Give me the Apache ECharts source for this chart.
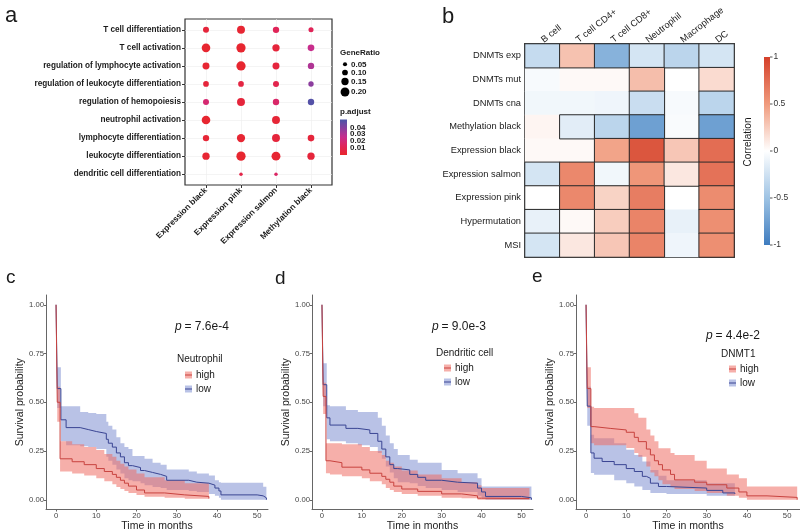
<!DOCTYPE html>
<html>
<head>
<meta charset="utf-8">
<script src="https://cdn.jsdelivr.net/npm/echarts@6/dist/echarts.min.js"></script>
<style>
  html, body { margin: 0; padding: 0; background: #fff; }
  #main { width: 800px; height: 529px; }
</style>
</head>
<body>
<div id="main"></div>
<script>
const FONT = 'Liberation Sans, Arial, Helvetica, sans-serif';

// ---- panel a: GO enrichment dot plot ----
const goTerms = ['T cell differentiation', 'T cell activation', 'regulation of lymphocyte activation',
  'regulation of leukocyte differentiation', 'regulation of hemopoiesis', 'neutrophil activation',
  'lymphocyte differentiation', 'leukocyte differentiation', 'dendritic cell differentiation'];
const modules = ['Expression black', 'Expression pink', 'Expression salmon', 'Methylation black'];
const ratioExpBlack  = [0.11, 0.19, 0.14, 0.10, 0.11, 0.19, 0.12, 0.15, null];
const ratioExpPink   = [0.17, 0.21, 0.21, 0.10, 0.17, null, 0.18, 0.21, 0.03];
const ratioExpSalmon = [0.12, 0.15, 0.14, 0.11, 0.12, 0.17, 0.17, 0.20, 0.03];
const ratioMethBlack = [0.08, 0.13, 0.12, 0.09, 0.12, null, 0.13, 0.15, null];
const padjExpBlack   = [0.004, 0.001, 0.002, 0.004, 0.018, 0.001, 0.003, 0.002, null];
const padjExpPink    = [0.002, 0.001, 0.001, 0.006, 0.004, null, 0.002, 0.001, 0.008];
const padjExpSalmon  = [0.012, 0.004, 0.005, 0.009, 0.016, 0.003, 0.004, 0.002, 0.015];
const padjMethBlack  = [0.012, 0.025, 0.030, 0.037, 0.048, null, 0.004, 0.004, null];
const ratioTicks = [0.05, 0.10, 0.15, 0.20];
const padjTicks = [0.04, 0.03, 0.02, 0.01];

// ---- panel b: correlation heatmap ----
const cellTypes = ['B cell', 'T cell CD4+', 'T cell CD8+', 'Neutrophil', 'Macrophage', 'DC'];
const features = ['DNMTs exp', 'DNMTs mut', 'DNMTs cna', 'Methylation black', 'Expression black',
  'Expression salmon', 'Expression pink', 'Hypermutation', 'MSI'];
const corr = [
  [-0.30, 0.30, -0.62, -0.22, -0.35, -0.22],
  [-0.04, 0.03, 0.03, 0.32, 0.00, 0.18],
  [-0.07, -0.07, -0.08, -0.28, -0.04, -0.35],
  [0.05, -0.15, -0.35, -0.75, -0.03, -0.75],
  [0.03, 0.03, 0.45, 0.88, 0.28, 0.75],
  [-0.22, 0.60, -0.07, 0.52, 0.12, 0.72],
  [0.00, 0.60, 0.22, 0.66, 0.00, 0.58],
  [-0.12, 0.03, 0.25, 0.62, -0.12, 0.56],
  [-0.22, 0.12, 0.28, 0.62, -0.08, 0.56]
];
const signif = [
  [1, 1, 1, 1, 1, 1],
  [0, 0, 0, 1, 0, 1],
  [0, 0, 0, 1, 0, 1],
  [0, 1, 1, 1, 0, 1],
  [0, 0, 1, 1, 1, 1],
  [1, 1, 1, 1, 1, 1],
  [1, 1, 1, 1, 0, 1],
  [1, 1, 1, 1, 0, 1],
  [1, 1, 1, 1, 0, 1]
];
const corrTicks = [1, 0.5, 0, -0.5, -1];

// ---- panels c-e: Kaplan-Meier curves ----
const timeTicks = [0, 10, 20, 30, 40, 50];
const survTicks = [0, 0.25, 0.5, 0.75, 1];

const cHighT  = [0, 0.3, 1, 4, 7, 10, 12, 14, 15, 16, 17, 18, 20, 22, 27, 32, 38];
const cHighS  = [1, 0.50, 0.21, 0.195, 0.18, 0.16, 0.145, 0.13, 0.115, 0.10, 0.085, 0.07, 0.05, 0.035, 0.025, 0.017, 0.006];
const cHighLo = [1, 0.40, 0.145, 0.135, 0.125, 0.11, 0.095, 0.08, 0.065, 0.055, 0.045, 0.035, 0.025, 0.015, 0.01, 0.005, 0.0];
const cHighHi = [1, 0.58, 0.30, 0.285, 0.27, 0.255, 0.235, 0.22, 0.20, 0.185, 0.17, 0.155, 0.135, 0.115, 0.10, 0.085, 0.07];
const cLowT  = [0, 0.3, 1.2, 2.5, 6, 8, 10, 12.5, 13, 14, 15, 16, 17, 18, 19, 21, 22, 24, 26, 27.5, 33, 35, 38, 39.5, 40.5, 41, 50, 51.5, 52.3];
const cLowS  = [1, 0.57, 0.41, 0.37, 0.36, 0.35, 0.34, 0.31, 0.29, 0.27, 0.24, 0.22, 0.19, 0.175, 0.165, 0.15, 0.14, 0.13, 0.12, 0.10, 0.09, 0.085, 0.075, 0.06, 0.045, 0.025, 0.02, 0.01, 0.0];
const cLowLo = [1, 0.47, 0.30, 0.28, 0.275, 0.27, 0.26, 0.22, 0.20, 0.18, 0.155, 0.135, 0.11, 0.10, 0.095, 0.085, 0.075, 0.065, 0.06, 0.05, 0.045, 0.04, 0.03, 0.02, 0.01, 0.0, 0.0, 0.0, 0.0];
const cLowHi = [1, 0.68, 0.48, 0.48, 0.45, 0.445, 0.44, 0.40, 0.38, 0.36, 0.32, 0.29, 0.27, 0.26, 0.225, 0.225, 0.21, 0.19, 0.18, 0.155, 0.145, 0.135, 0.125, 0.10, 0.09, 0.087, 0.087, 0.067, 0.067];

const dHighT  = [0, 0.3, 1, 2, 5, 10, 12, 15, 16, 17, 18, 20, 24, 30, 35, 39, 40, 52];
const dHighS  = [1, 0.53, 0.20, 0.19, 0.167, 0.153, 0.136, 0.12, 0.105, 0.09, 0.07, 0.055, 0.043, 0.03, 0.02, 0.008, 0.006, 0.004];
const dHighLo = [1, 0.44, 0.136, 0.13, 0.12, 0.11, 0.095, 0.08, 0.06, 0.05, 0.04, 0.03, 0.02, 0.01, 0.008, 0.0, 0.0, 0.0];
const dHighHi = [1, 0.60, 0.29, 0.29, 0.285, 0.27, 0.25, 0.23, 0.20, 0.19, 0.17, 0.15, 0.13, 0.11, 0.09, 0.075, 0.06, 0.06];
const dLowT  = [0, 0.3, 1.2, 2, 6, 9, 12, 14, 15, 16, 17, 18, 19, 22, 24, 26, 30, 34, 39, 40, 41, 50, 52.5];
const dLowS  = [1, 0.59, 0.42, 0.383, 0.366, 0.358, 0.34, 0.30, 0.26, 0.22, 0.18, 0.16, 0.153, 0.13, 0.115, 0.10, 0.09, 0.085, 0.06, 0.04, 0.017, 0.01, 0.0];
const dLowLo = [1, 0.48, 0.31, 0.30, 0.29, 0.28, 0.27, 0.24, 0.21, 0.17, 0.14, 0.11, 0.09, 0.085, 0.07, 0.06, 0.05, 0.04, 0.02, 0.01, 0.0, 0.0, 0.0];
const dLowHi = [1, 0.70, 0.485, 0.48, 0.46, 0.45, 0.45, 0.42, 0.38, 0.33, 0.29, 0.26, 0.23, 0.205, 0.19, 0.19, 0.153, 0.136, 0.11, 0.068, 0.068, 0.068, 0.068];

const eHighT  = [0, 0.3, 1.2, 2, 6, 10, 12, 13, 15, 16, 17, 18, 19, 21, 22, 27, 30, 35, 38, 40, 45, 52.5];
const eHighS  = [1, 0.57, 0.375, 0.366, 0.358, 0.346, 0.32, 0.298, 0.26, 0.23, 0.20, 0.18, 0.153, 0.13, 0.102, 0.09, 0.077, 0.06, 0.04, 0.02, 0.012, 0.0];
const eHighLo = [1, 0.47, 0.29, 0.28, 0.28, 0.265, 0.24, 0.22, 0.17, 0.14, 0.12, 0.10, 0.08, 0.065, 0.055, 0.045, 0.035, 0.02, 0.01, 0.0, 0.0, 0.0];
const eHighHi = [1, 0.68, 0.477, 0.47, 0.47, 0.47, 0.443, 0.42, 0.36, 0.33, 0.30, 0.264, 0.264, 0.24, 0.23, 0.20, 0.16, 0.13, 0.11, 0.068, 0.068, 0.068];
const eLowT  = [0, 0.3, 1.2, 2, 4, 7, 10, 12, 14, 15, 16, 18, 20, 30, 34, 37];
const eLowS  = [1, 0.48, 0.24, 0.213, 0.196, 0.18, 0.16, 0.145, 0.12, 0.11, 0.085, 0.068, 0.06, 0.048, 0.035, 0.03];
const eLowLo = [1, 0.38, 0.137, 0.128, 0.128, 0.10, 0.085, 0.068, 0.05, 0.05, 0.034, 0.034, 0.03, 0.02, 0.02, 0.02];
const eLowHi = [1, 0.58, 0.333, 0.316, 0.316, 0.29, 0.256, 0.23, 0.196, 0.196, 0.153, 0.123, 0.10, 0.085, 0.085, 0.07];

const RED_LINE = '#c8433f', RED_BAND = 'rgba(238,110,100,0.55)';
const BLUE_LINE = '#3a4593', BLUE_BAND = 'rgba(100,120,200,0.45)';
const padjColors = ['#e8262c', '#e0245a', '#c82d8c', '#8a3f9f', '#4a55a8'];
const corrColors = ['#3e7cbf', '#9ec3e4', '#ffffff', '#f09a7c', '#d5402a'];

const dotSize = r => 2.5 + 32 * r;

const ratios = [ratioExpBlack, ratioExpPink, ratioExpSalmon, ratioMethBlack];
const padjs = [padjExpBlack, padjExpPink, padjExpSalmon, padjMethBlack];
const dotData = [];
ratios.forEach((arr, c) => arr.forEach((r, i) => {
  if (r != null) dotData.push([c, i, r, padjs[c][i]]);
}));

const heatAll = [], heatSig = [];
corr.forEach((row, i) => row.forEach((v, j) => {
  heatAll.push([j, i, v]);
  if (signif[i][j]) heatSig.push([j, i, v]);
}));

// confidence band: one stepped polygon built through the axis scales
function bandSeries(k, t, lo, hi, color) {
  return {
    type: 'custom', xAxisIndex: k, yAxisIndex: k, silent: true, z: 1,
    data: t.map((x, i) => [x, lo[i], hi[i]]),
    encode: { x: 0, y: [1, 2] },
    renderItem: (params, api) => {
      if (params.dataIndexInside !== 0) return null;
      const n = params.dataInsideLength;
      const up = [], down = [];
      for (let i = 0; i < n; i++) {
        const x0 = api.value(0, i);
        const x1 = i + 1 < n ? api.value(0, i + 1) : x0;
        up.push(api.coord([x0, api.value(2, i)]), api.coord([x1, api.value(2, i)]));
        down.push(api.coord([x0, api.value(1, i)]), api.coord([x1, api.value(1, i)]));
      }
      return { type: 'polygon', shape: { points: up.concat(down.reverse()) }, style: { fill: color } };
    }
  };
}
function stepLine(k, t, s, color) {
  return {
    type: 'line', xAxisIndex: k, yAxisIndex: k, step: 'end', symbol: 'none', silent: true, z: 3,
    data: t.map((x, i) => [x, s[i]]), lineStyle: { color: color, width: 1 }
  };
}

function kmX(k, max) {
  return {
    gridIndex: k, type: 'value', min: -2.5, max: max,
    axisLine: { show: true, onZero: false, lineStyle: { color: '#666', width: 1 } },
    axisTick: { show: true, length: 2, customValues: timeTicks, lineStyle: { color: '#666' } },
    axisLabel: { customValues: timeTicks, fontSize: 7.7, color: '#444', margin: 2, fontFamily: FONT },
    splitLine: { show: false },
    name: 'Time in months', nameLocation: 'middle', nameGap: 8,
    nameTextStyle: { fontSize: 10.5, color: '#222', fontFamily: FONT }
  };
}
function kmY(k) {
  return {
    gridIndex: k, type: 'value', min: -0.05, max: 1.05,
    axisLine: { show: true, onZero: false, lineStyle: { color: '#666', width: 1 } },
    axisTick: { show: true, length: 2, customValues: survTicks, lineStyle: { color: '#666' } },
    axisLabel: { customValues: survTicks, formatter: v => v.toFixed(2), fontSize: 7.7, color: '#444', margin: 2, fontFamily: FONT },
    splitLine: { show: false },
    name: 'Survival probability', nameLocation: 'middle', nameGap: 20,
    nameTextStyle: { fontSize: 10.5, color: '#222', fontFamily: FONT }
  };
}

const txt = (x, y, text, size, extra) => ({
  type: 'text', x: x, y: y, silent: true, z: 100,
  style: Object.assign({ text: text, fontSize: size, fontFamily: FONT, fill: '#1a1a1a',
    textAlign: 'left', textVerticalAlign: 'middle' }, extra || {})
});

const graphics = [];
// panel letters
graphics.push(txt(5, 16, 'a', 22), txt(442, 17, 'b', 22), txt(6, 278, 'c', 19), txt(275, 279, 'd', 19), txt(532, 277, 'e', 19));

// legend for panel a
graphics.push(txt(340, 53, 'GeneRatio', 8, { fontWeight: 'bold' }));
const ratioY = [64.3, 72.5, 81.5, 92];
ratioTicks.forEach((r, i) => {
  graphics.push({ type: 'circle', silent: true, z: 100, shape: { cx: 345, cy: ratioY[i], r: dotSize(r) / 2 }, style: { fill: '#000' } });
  graphics.push(txt(351, ratioY[i], r.toFixed(2), 8, { fontWeight: 'bold' }));
});
graphics.push(txt(340, 112, 'p.adjust', 8, { fontWeight: 'bold' }));
graphics.push({
  type: 'rect', silent: true, z: 100, shape: { x: 340, y: 119.5, width: 7, height: 35.5 },
  style: { fill: new echarts.graphic.LinearGradient(0, 0, 0, 1, padjColors.slice().reverse().map((c, i) => ({ offset: i / 4, color: c }))) }
});
const padjY = [127.3, 134, 140.7, 147.3];
padjTicks.forEach((p, i) => graphics.push(txt(350, padjY[i], p.toFixed(2), 8, { fontWeight: 'bold' })));

// colour bar for panel b
graphics.push({
  type: 'rect', silent: true, z: 100, shape: { x: 764, y: 57, width: 6, height: 188 },
  style: { fill: new echarts.graphic.LinearGradient(0, 0, 0, 1, corrColors.slice().reverse().map((c, i) => ({ offset: i / 4, color: c }))) }
});
corrTicks.forEach((v, i) => {
  const y = 57 + i * 47;
  graphics.push({ type: 'line', silent: true, z: 100, shape: { x1: 770, y1: y, x2: 772.5, y2: y }, style: { stroke: '#555', lineWidth: 1 } });
  graphics.push(txt(773.5, y, String(v), 8.5, { fill: '#333' }));
});
const corrTitle = txt(748, 142, 'Correlation', 10, { textAlign: 'center' });
corrTitle.rotation = Math.PI / 2;
graphics.push(corrTitle);

// p-values and legends for c, d, e
function kmLegend(px, py, pval, lx, ty, title, hy, ly) {
  graphics.push(txt(px, py, 'p', 12, { fontStyle: 'italic' }));
  graphics.push(txt(px + 9.5, py, '= ' + pval, 12));
  graphics.push(txt(lx, ty, title, 10));
  [[hy, 'high', RED_BAND, RED_LINE], [ly, 'low', BLUE_BAND, BLUE_LINE]].forEach(([y, lab, band, line]) => {
    graphics.push({ type: 'rect', silent: true, z: 100, shape: { x: lx + 8, y: y - 3.5, width: 7, height: 7 }, style: { fill: band } });
    graphics.push({ type: 'line', silent: true, z: 100, shape: { x1: lx + 8, y1: y, x2: lx + 15, y2: y }, style: { stroke: line, lineWidth: 1 } });
    graphics.push(txt(lx + 19, y, lab, 10));
  });
}
kmLegend(175, 327, '7.6e-4', 177, 359, 'Neutrophil', 375, 389);
kmLegend(432, 327, '9.0e-3', 436, 353, 'Dendritic cell', 368, 382);
kmLegend(706, 336, '4.4e-2', 721, 354, 'DNMT1', 369, 383);

const option = {
  animation: false,
  backgroundColor: '#fff',
  textStyle: { fontFamily: FONT },
  grid: [
    { left: 185, top: 19, width: 147, height: 166, show: true, borderColor: '#333', borderWidth: 1.2, backgroundColor: '#fff', outerBoundsMode: 'none', containLabel: false },
    { left: 525, top: 44, width: 209, height: 213, show: true, borderColor: '#333', borderWidth: 2, outerBoundsMode: 'none', containLabel: false },
    { left: 46, top: 295, width: 222, height: 214.5, outerBoundsMode: 'none', containLabel: false },
    { left: 312, top: 295, width: 221, height: 214.5, outerBoundsMode: 'none', containLabel: false },
    { left: 576, top: 295, width: 224, height: 214.5, outerBoundsMode: 'none', containLabel: false }
  ],
  xAxis: [
    {
      gridIndex: 0, type: 'value', min: -0.6, max: 3.6,
      axisLine: { show: false, onZero: false },
      axisTick: { show: true, length: 3, customValues: [0, 1, 2, 3], lineStyle: { color: '#333' } },
      axisLabel: { customValues: [0, 1, 2, 3], formatter: v => modules[v], rotate: 45, fontWeight: 'bold',
        fontSize: 8.3, color: '#1a1a1a', margin: 4, fontFamily: FONT },
      splitLine: { show: true, lineStyle: { color: '#ececec', width: 0.6 } }
    },
    {
      gridIndex: 1, type: 'category', data: cellTypes, position: 'top',
      axisLine: { show: false }, axisTick: { show: false },
      axisLabel: { rotate: -38, fontSize: 9.3, color: '#1a1a1a', margin: 3, fontFamily: FONT, interval: 0 },
      splitLine: { show: false }
    },
    kmX(2, 52.7), kmX(3, 52.9), kmX(4, 53.2)
  ],
  yAxis: [
    {
      gridIndex: 0, type: 'value', inverse: true, min: -0.6, max: 8.6,
      axisLine: { show: false, onZero: false },
      axisTick: { show: true, length: 3, customValues: [0, 1, 2, 3, 4, 5, 6, 7, 8], lineStyle: { color: '#333' } },
      axisLabel: { customValues: [0, 1, 2, 3, 4, 5, 6, 7, 8], formatter: v => goTerms[v], fontWeight: 'bold',
        fontSize: 8.2, color: '#1a1a1a', margin: 4, fontFamily: FONT },
      splitLine: { show: true, lineStyle: { color: '#ececec', width: 0.6 } }
    },
    {
      gridIndex: 1, type: 'category', data: features, inverse: true,
      axisLine: { show: false }, axisTick: { show: false },
      axisLabel: { fontSize: 9.3, color: '#1a1a1a', margin: 4, fontFamily: FONT, interval: 0 },
      splitLine: { show: false }
    },
    kmY(2), kmY(3), kmY(4)
  ],
  visualMap: [
    { type: 'continuous', show: false, seriesIndex: 0, dimension: 3, min: 0, max: 0.05, inRange: { color: padjColors } },
    { type: 'continuous', show: false, seriesIndex: [1, 2], dimension: 2, min: -1, max: 1, inRange: { color: corrColors } }
  ],
  series: [
    { type: 'scatter', xAxisIndex: 0, yAxisIndex: 0, data: dotData, symbolSize: v => dotSize(v[2]), itemStyle: { opacity: 1 }, z: 3, silent: true },
    { type: 'heatmap', xAxisIndex: 1, yAxisIndex: 1, data: heatAll, itemStyle: { borderWidth: 0 }, silent: true },
    { type: 'heatmap', xAxisIndex: 1, yAxisIndex: 1, data: heatSig, itemStyle: { borderColor: '#2a2a2a', borderWidth: 1 }, z: 3, silent: true },
    bandSeries(2, cLowT, cLowLo, cLowHi, BLUE_BAND),
    bandSeries(2, cHighT, cHighLo, cHighHi, RED_BAND),
    stepLine(2, cLowT, cLowS, BLUE_LINE),
    stepLine(2, cHighT, cHighS, RED_LINE),
    bandSeries(3, dLowT, dLowLo, dLowHi, BLUE_BAND),
    bandSeries(3, dHighT, dHighLo, dHighHi, RED_BAND),
    stepLine(3, dLowT, dLowS, BLUE_LINE),
    stepLine(3, dHighT, dHighS, RED_LINE),
    bandSeries(4, eLowT, eLowLo, eLowHi, BLUE_BAND),
    bandSeries(4, eHighT, eHighLo, eHighHi, RED_BAND),
    stepLine(4, eLowT, eLowS, BLUE_LINE),
    stepLine(4, eHighT, eHighS, RED_LINE)
  ],
  graphic: graphics
};

const chart = echarts.init(document.getElementById('main'));
chart.setOption(option);
</script>
</body>
</html>
